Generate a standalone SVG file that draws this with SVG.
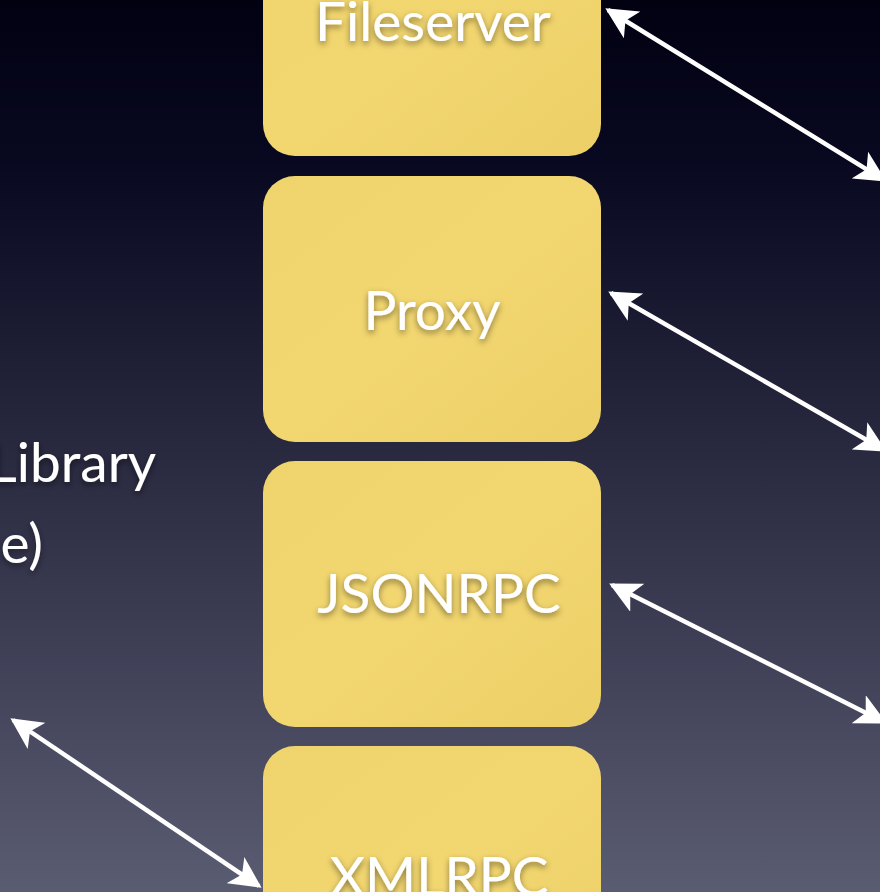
<svg xmlns="http://www.w3.org/2000/svg" width="880" height="892" viewBox="0 0 880 892">
  <defs>
    <linearGradient id="bg" x1="0" y1="0" x2="0" y2="1">
      <stop offset="0" stop-color="#020112"/>
      <stop offset="0.18" stop-color="#080820"/>
      <stop offset="0.5" stop-color="#28283f"/>
      <stop offset="1" stop-color="#5a5c72"/>
    </linearGradient>
    <linearGradient id="card" x1="0" y1="0" x2="1" y2="1">
      <stop offset="0" stop-color="#efd36c"/>
      <stop offset="0.5" stop-color="#f2d670"/>
      <stop offset="1" stop-color="#eccf66"/>
    </linearGradient>
    <filter id="shadow" x="-20%" y="-30%" width="140%" height="160%">
      <feDropShadow dx="0" dy="3" stdDeviation="3" flood-color="#000" flood-opacity="0.45"/>
    </filter>
    <marker id="head" viewBox="0 0 10 10" refX="9" refY="5" markerWidth="7" markerHeight="7" orient="auto-start-reverse" markerUnits="strokeWidth">
      <path d="M0,0 L10,5 L0,10 L2.5,5 Z" fill="#ffffff"/>
    </marker>
    <style>
      .box { fill: url(#card); }
      .label { font-family: Lato, "Open Sans", "DejaVu Sans", sans-serif; font-size: 55px; fill: #ffffff; filter: url(#shadow); }
      .link { stroke: #ffffff; stroke-width: 4.5; fill: none; marker-start: url(#head); marker-end: url(#head); }
    </style>
  </defs>

  <rect width="880" height="892" fill="url(#bg)"/>

  <g id="library-text">
    <text class="label" x="156" y="482" text-anchor="end">Library</text>
    <text class="label" x="43" y="563" text-anchor="end">e)</text>
  </g>

  <g id="fileserver">
    <rect class="box" x="263" y="-110" width="338" height="266" rx="32"/>
    <text class="label" x="433" y="41" text-anchor="middle">Fileserver</text>
  </g>

  <g id="proxy">
    <rect class="box" x="263" y="176" width="338" height="266" rx="32"/>
    <text class="label" x="432" y="330" text-anchor="middle">Proxy</text>
  </g>

  <g id="jsonrpc">
    <rect class="box" x="263" y="461" width="338" height="266" rx="32"/>
    <text class="label" x="439" y="613" text-anchor="middle">JSONRPC</text>
  </g>

  <g id="xmlrpc">
    <rect class="box" x="263" y="746" width="338" height="266" rx="32"/>
    <text class="label" x="439" y="896" text-anchor="middle">XMLRPC</text>
  </g>

  <g id="connectors">
    <line class="link" x1="608" y1="10" x2="884" y2="180"/>
    <line class="link" x1="611" y1="293" x2="884" y2="450"/>
    <line class="link" x1="612" y1="585" x2="884" y2="722"/>
    <line class="link" x1="13" y1="720" x2="259" y2="886"/>
  </g>
</svg>
